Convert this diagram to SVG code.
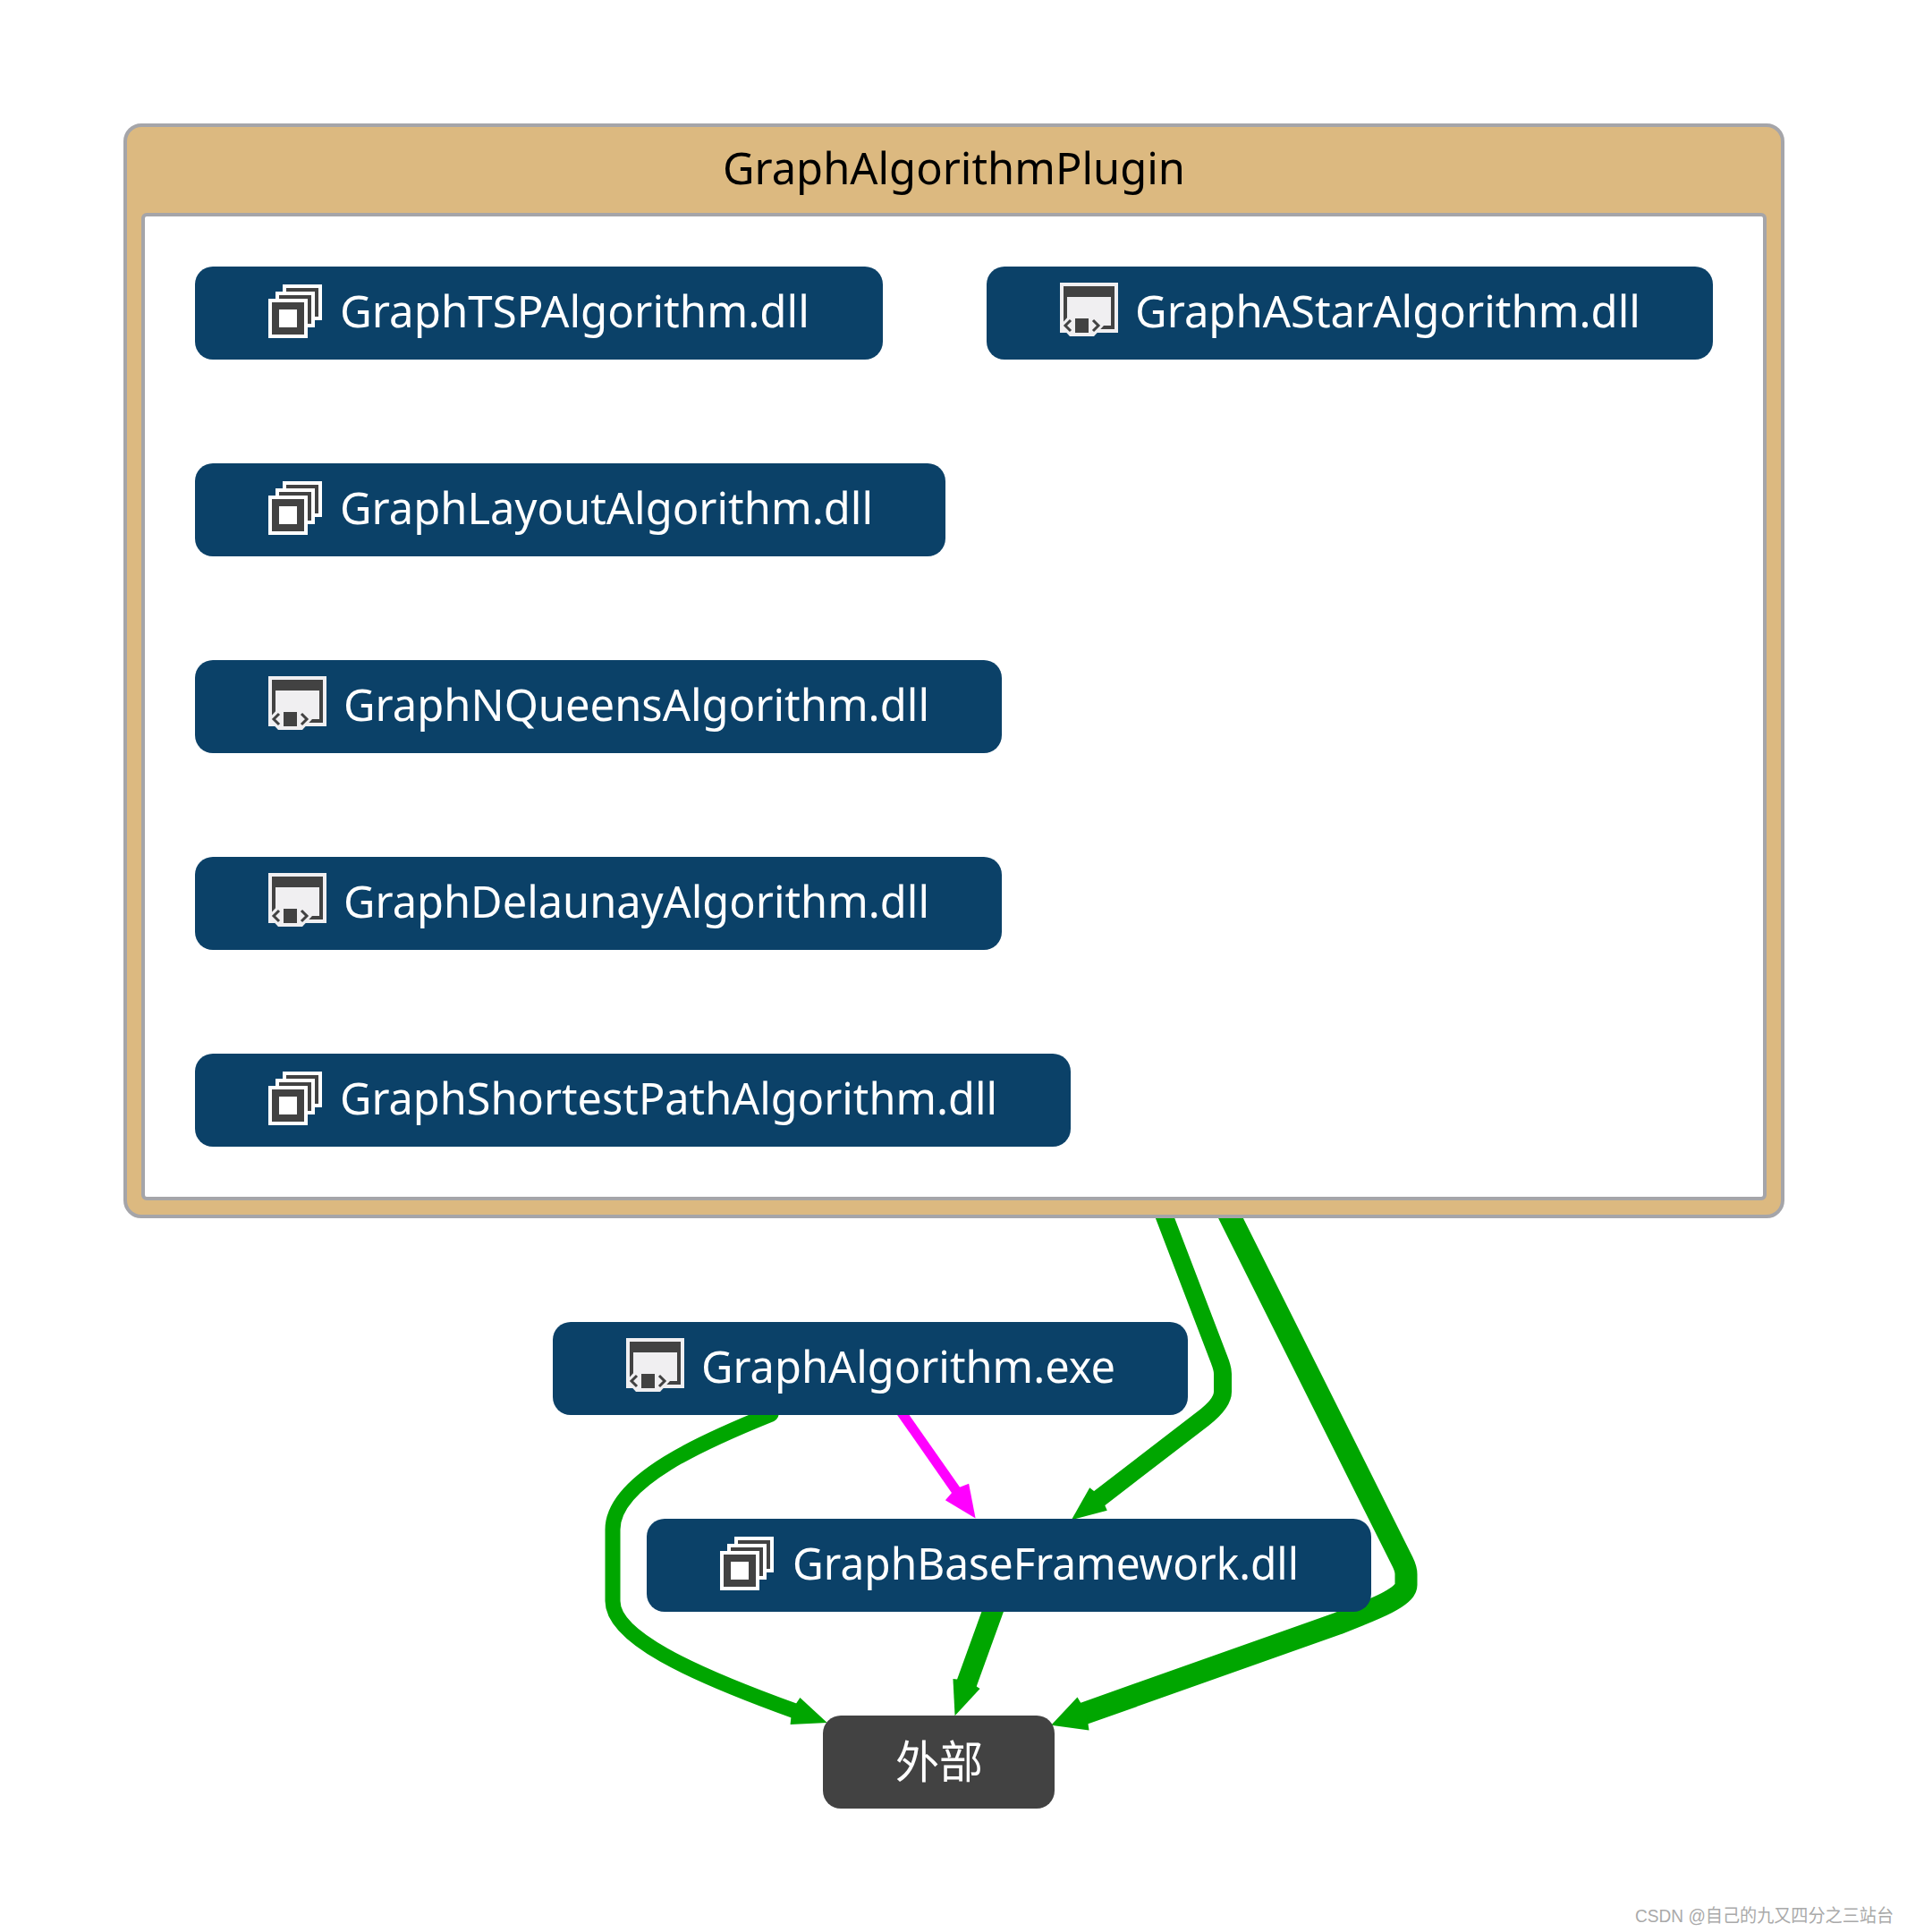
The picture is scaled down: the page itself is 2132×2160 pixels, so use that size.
<svg xmlns="http://www.w3.org/2000/svg" width="2132" height="2160" viewBox="0 0 2132 2160">
<style>
text{font-family:"Noto Sans","Noto Sans CJK SC",sans-serif;font-size:50px;fill:#fff}
.title{fill:#000}
.mark{font-family:"Liberation Sans","Noto Sans CJK SC",sans-serif;font-size:20px;fill:#aaa}
.n{fill:#0b4168}
.x{fill:#424242}
.e{fill:none;stroke:#00a600;stroke-linejoin:round}
</style>
<defs>
<marker id="g" markerUnits="userSpaceOnUse" markerWidth="50" markerHeight="50" refX="4" refY="25" orient="auto"><path d="M42,25L4,9L0,25L4,41Z" fill="#00a600"/></marker>
<marker id="gb" markerUnits="userSpaceOnUse" markerWidth="50" markerHeight="50" refX="4" refY="25" orient="auto"><path d="M42,25L4,5.5L0,25L4,44.5Z" fill="#00a600"/></marker>
<marker id="m" markerUnits="userSpaceOnUse" markerWidth="50" markerHeight="50" refX="4" refY="25" orient="auto"><path d="M40,25L4,9L0,25L4,41Z" fill="#f0f"/></marker>
<g id="dll">
<rect x="16" y="0" width="44" height="40" fill="#fff"/><rect x="20" y="4" width="36" height="32" fill="#424242"/>
<rect x="8" y="8" width="44" height="40" fill="#fff"/><rect x="12" y="12" width="36" height="32" fill="#424242"/>
<rect x="0" y="16" width="44" height="44" fill="#fff"/><rect x="4" y="20" width="36" height="36" fill="#424242"/>
<rect x="12" y="28" width="20" height="20" fill="#fff"/>
</g>
<g id="exe">
<rect width="65" height="56" fill="#f0eff1"/><rect x="4" y="4" width="57" height="48" fill="#424242"/>
<rect x="8" y="16" width="49" height="32" fill="#f0eff1"/>
<path d="M0,48L11,36H38L49,48L38,60H11Z" fill="#f0eff1"/>
<rect x="17" y="40" width="15" height="16" fill="#424242"/>
<path d="M12,42L6,48L12,54M37,42L43,48L37,54" fill="none" stroke="#424242" stroke-width="3"/>
</g>
</defs>
<g id="connectors">
<path class="e" stroke-width="20" marker-end="url(#g)" d="M1298,1350L1363,1520Q1367,1530 1367,1536V1556Q1367,1569 1345,1586L1228,1676"/>
<path class="e" stroke-width="25" marker-end="url(#gb)" d="M1370,1350L1568,1746Q1572,1754 1572,1760V1772C1572,1785 1540,1798 1496,1815L1211,1916"/>
<path class="e" stroke-width="17" stroke-linecap="round" marker-end="url(#g)" d="M862,1581C790,1610 685,1655 685,1710V1790C685,1830 770,1870 889,1913"/>
<path stroke="#f0f" fill="none" stroke-width="11" marker-end="url(#m)" d="M1005,1575L1070,1668"/>
<path class="e" stroke-width="23" marker-end="url(#g)" d="M1114,1790L1080.5,1882.5"/>
</g>
<g id="GraphAlgorithmPlugin">
<rect x="140" y="140" width="1853" height="1220" rx="18" fill="#dcb980" stroke="#a5a5a9" stroke-width="4"/>
<rect x="160" y="240" width="1813" height="1100" rx="4" fill="#fff" stroke="#a5a5a9" stroke-width="4"/>
<text class="title" x="808" y="206" textLength="517" lengthAdjust="spacingAndGlyphs">GraphAlgorithmPlugin</text>
</g>
<g id="tsp"><rect class="n" x="218" y="298" width="769" height="104" rx="20"/><use href="#dll" x="300" y="318"/><text x="380" y="366" textLength="525" lengthAdjust="spacingAndGlyphs">GraphTSPAlgorithm.dll</text></g>
<g id="astar"><rect class="n" x="1103" y="298" width="812" height="104" rx="20"/><use href="#exe" x="1185" y="316"/><text x="1269" y="366" textLength="565" lengthAdjust="spacingAndGlyphs">GraphAStarAlgorithm.dll</text></g>
<g id="layout"><rect class="n" x="218" y="518" width="839" height="104" rx="20"/><use href="#dll" x="300" y="538"/><text x="380" y="586" textLength="596" lengthAdjust="spacingAndGlyphs">GraphLayoutAlgorithm.dll</text></g>
<g id="nqueens"><rect class="n" x="218" y="738" width="902" height="104" rx="20"/><use href="#exe" x="300" y="756"/><text x="384" y="806" textLength="655" lengthAdjust="spacingAndGlyphs">GraphNQueensAlgorithm.dll</text></g>
<g id="delaunay"><rect class="n" x="218" y="958" width="902" height="104" rx="20"/><use href="#exe" x="300" y="976"/><text x="384" y="1026" textLength="655" lengthAdjust="spacingAndGlyphs">GraphDelaunayAlgorithm.dll</text></g>
<g id="shortest"><rect class="n" x="218" y="1178" width="979" height="104" rx="20"/><use href="#dll" x="300" y="1198"/><text x="380" y="1246" textLength="735" lengthAdjust="spacingAndGlyphs">GraphShortestPathAlgorithm.dll</text></g>
<g id="exe-node"><rect class="n" x="618" y="1478" width="710" height="104" rx="20"/><use href="#exe" x="700" y="1496"/><text x="784" y="1546" textLength="463" lengthAdjust="spacingAndGlyphs">GraphAlgorithm.exe</text></g>
<g id="base"><rect class="n" x="723" y="1698" width="810" height="104" rx="20"/><use href="#dll" x="805" y="1718"/><text x="886" y="1766" textLength="566" lengthAdjust="spacingAndGlyphs">GraphBaseFramework.dll</text></g>
<g id="external"><rect class="x" x="920" y="1918" width="259" height="104" rx="20"/><text x="1001" y="1988" textLength="98" lengthAdjust="spacingAndGlyphs">外部</text></g>
<text class="mark" x="1828" y="2149" textLength="289" lengthAdjust="spacingAndGlyphs">CSDN @自己的九又四分之三站台</text>
</svg>
